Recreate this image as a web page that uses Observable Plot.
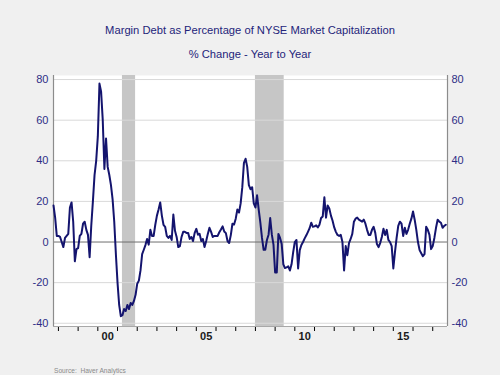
<!DOCTYPE html>
<html><head><meta charset="utf-8">
<script src="https://cdn.jsdelivr.net/npm/d3@7"></script>
<script src="https://cdn.jsdelivr.net/npm/@observablehq/plot@0.6"></script>
<style>
body{margin:0;background:#f0f0f0;font-family:"Liberation Sans",Arial,sans-serif;}
#wrap{position:relative;width:500px;height:375px;overflow:hidden;background:#f0f0f0;}
.t{position:absolute;left:0;width:500px;text-align:center;color:#24247a;font-size:11.2px;line-height:14px;}
#src{position:absolute;left:54px;top:366px;font-size:6.6px;line-height:9px;color:#8a8a8a;}
#chart{position:absolute;left:0;top:65px;}
</style></head><body>
<div id="wrap">
<div class="t" style="top:23px">Margin Debt as Percentage of NYSE Market Capitalization</div>
<div class="t" style="top:47px">% Change - Year to Year</div>
<div id="chart"></div>
<div id="src">Source:&nbsp; Haver Analytics</div>
</div>
<script>
// Monthly % change, year to year, starting October 1997
const startYear = 1997;
const startMonth = 10;
const v1997 = [18, 12, 3];
const v1998 = [3, 2.5, 0, -2.5, 2, 3, 4, 17, 19.5, 10, -9.5, -3.5];
const v1999 = [-3, 3, 4, 9, 10, 6, 3.5, -7.5, 8, 20, 33, 40];
const v2000 = [52, 78, 74, 60, 36, 51, 37, 33, 28, 21, 10, -6];
const v2001 = [-20, -31, -36.5, -36, -33, -34, -31, -33, -30, -31, -29, -26];
const v2002 = [-20.5, -19, -14, -6, -3.8, -1.5, 1.5, -1.3, 6, 3, 3, 8.5];
const v2003 = [13, 16, 19.5, 13, 8.5, 7.5, 3, 2, 3, 1, 13.5, 5.5];
const v2004 = [2.5, -2.5, -2, 2.5, 5, 5, 4.5, 4.5, 1.5, 2.5, 0.5, 4.5];
const v2005 = [6.5, 3.6, 4, 0.5, 1.5, -2.5, 0.5, 4, 7, 5, 2.5, 3];
const v2006 = [3, 3, 4.8, 6.2, 7.7, 5.2, 4.4, 0.5, -0.5, 3.4, 9, 8.6];
const v2007 = [11.5, 16, 14.5, 19, 27, 39, 41, 37, 28, 26, 27, 19];
const v2008 = [17, 23, 16, 9.5, 2, -3.8, -3.8, 1, 3.6, 11.8, 3.6, -1.3];
const v2009 = [-15, -15, 4, 2, -1, -11, -12.8, -12.5, -12, -14, -11, -5];
const v2010 = [0, 1, -13, -4, -1.5, 0, 1.8, 3.3, 5, 6.8, 9.5, 7.5];
const v2011 = [7.7, 8.2, 7.2, 8.5, 11.8, 12.6, 22, 12, 18, 16.5, 13, 10.5];
const v2012 = [7.2, 5, 3.5, 3, 3.5, 0, -14, -2, -6.5, -0.5, 1.5, 4];
const v2013 = [10, 11.5, 12, 11, 10.5, 10, 11, 9, 6, 3.5, 3.5, 6];
const v2014 = [7.5, 4.5, -1, -2.5, -0.5, 2.5, 6.5, 3.5, 6, 1, 0, -2];
const v2015 = [-13, -5, 2, 8, 10, 9, 3, 7, 4, 6, 9, 11.5];
const v2016 = [15, 11, 6, 0, -4, -5.5, -7, -6, 7.5, 6, 3.5, -3.5];
const v2017 = [-2, 2, 7, 11, 10, 9.5, 7, 8, 8.5];

const recessions = [
  {start: 2001.25, end: 2001.917},
  {start: 2008.0, end: 2009.46}
];
const yTicks = [-40, -20, 20, 40, 60, 80];
const yLabels = [-40, -20, 0, 20, 40, 60, 80];
const yearTicks = [1998, 1999, 2000, 2001, 2002, 2003, 2004, 2005, 2006, 2007, 2008, 2009, 2010, 2011, 2012, 2013, 2014, 2015, 2016, 2017];
const yearLabelPos = [2000.5, 2005.5, 2010.5, 2015.5];
const yearLabelText = ["00", "05", "10", "15"];

const allValues = [].concat(v1997, v1998, v1999, v2000, v2001, v2002, v2003, v2004, v2005, v2006, v2007, v2008, v2009, v2010, v2011, v2012, v2013, v2014, v2015, v2016, v2017);
const series = allValues.map((v, i) => ({t: startYear + (startMonth - 1 + i) / 12, v}));
const xLabels = yearLabelPos.map((x, i) => ({x, label: yearLabelText[i]}));

const X0 = 1997.75, X1 = 2017.75, Y0 = -41.6, Y1 = 82;

const plot = Plot.plot({
  width: 500,
  height: 310,
  marginTop: 10,
  marginBottom: 49,
  marginLeft: 53,
  marginRight: 53,
  style: {background: "transparent", fontFamily: "'Liberation Sans', Arial, sans-serif", fontSize: "11px"},
  x: {domain: [X0, X1], axis: "bottom", ticks: yearTicks, tickFormat: () => "", tickSize: 5, label: null},
  y: {domain: [Y0, Y1], axis: null},
  marks: [
    Plot.frame({fill: "white", stroke: null}),
    Plot.rect(recessions, {x1: "start", x2: "end", fill: "#c6c6c6"}),
    Plot.ruleY(yTicks, {stroke: "#d9d9d9", strokeWidth: 1}),
    Plot.ruleY([0], {stroke: "#6e6e6e", strokeWidth: 1}),
    Plot.ruleY([Y0], {stroke: "#a8a8a8"}),
    Plot.ruleX([X0, X1], {stroke: "#8c8c8c", strokeWidth: 1.2}),
    Plot.line(series, {x: "t", y: "v", stroke: "#14146e", strokeWidth: 2}),
    Plot.text(yLabels, {y: d => d, text: d => String(d), frameAnchor: "left", dx: -5, textAnchor: "end", fill: "#2e2e86", fontSize: 11}),
    Plot.text(yLabels, {y: d => d, text: d => String(d), frameAnchor: "right", dx: 4, textAnchor: "start", fill: "#2e2e86", fontSize: 11}),
    Plot.text(xLabels, {x: "x", text: "label", frameAnchor: "bottom", dy: 13, fill: "#1a1a1a", fontSize: 11, fontWeight: 600})
  ]
});
document.getElementById("chart").appendChild(plot);
</script>
</body></html>
